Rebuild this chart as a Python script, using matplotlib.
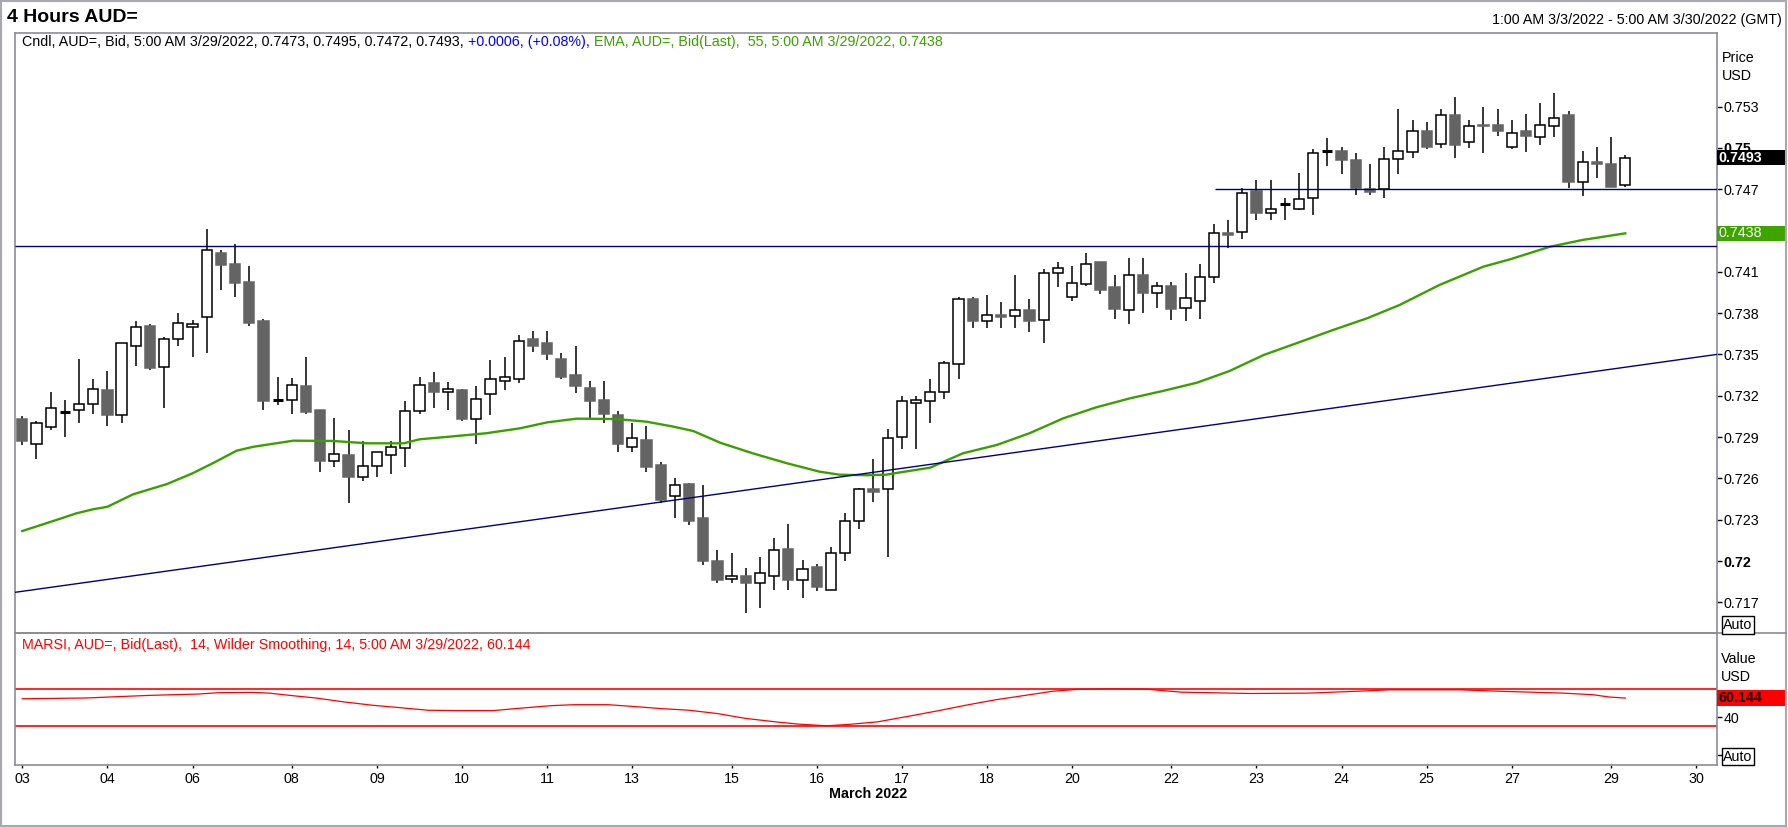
import matplotlib
matplotlib.use('Agg')
import matplotlib.pyplot as plt
import matplotlib.transforms as mtrans
from matplotlib.patches import Rectangle
from matplotlib.lines import Line2D
import numpy as np

plt.rcParams['font.family'] = ['Liberation Sans', 'DejaVu Sans']
FS = 10.3

# ---------------- data (4-hour candles, AUD=, 3 Mar 2022 01:00 -> 29 Mar 2022 05:00) -------------
opens = [0.7303, 0.7285, 0.7297, 0.7308, 0.7310, 0.7314, 0.7324, 0.7306, 0.7356, 0.7371,
         0.7341, 0.7361, 0.7370, 0.7377, 0.7424, 0.7416, 0.7403, 0.7374, 0.7317, 0.7317,
         0.7327, 0.7310, 0.7273, 0.7277, 0.7261, 0.7269, 0.7277, 0.7282, 0.7309, 0.7329,
         0.7323, 0.7324, 0.7303, 0.7321, 0.7331, 0.7332, 0.7361, 0.7358, 0.7347, 0.7335,
         0.7326, 0.7317, 0.7306, 0.7283, 0.7288, 0.7270, 0.7247, 0.7256, 0.7231, 0.7200,
         0.7187, 0.7189, 0.7184, 0.7189, 0.7209, 0.7186, 0.7196, 0.7179, 0.7206, 0.7229,
         0.7252, 0.7252, 0.7290, 0.7315, 0.7316, 0.7323, 0.7343, 0.7390, 0.7374, 0.7379,
         0.7378, 0.7382, 0.7375, 0.7409, 0.7392, 0.7401, 0.7417, 0.7399, 0.7382, 0.7408,
         0.7395, 0.7400, 0.7384, 0.7389, 0.7406, 0.7438, 0.7439, 0.7469, 0.7453, 0.7459,
         0.7456, 0.7464, 0.7498, 0.7498, 0.7491, 0.7470, 0.7470, 0.7492, 0.7497, 0.7512,
         0.7503, 0.7524, 0.7504, 0.7517, 0.7517, 0.7501, 0.7512, 0.7508, 0.7516, 0.7524,
         0.7475, 0.7490, 0.7488, 0.7473]
highs = [0.7305, 0.7302, 0.7323, 0.7317, 0.7347, 0.7332, 0.7338, 0.7358, 0.7374, 0.7372,
         0.7363, 0.7380, 0.7375, 0.7441, 0.7426, 0.7430, 0.7414, 0.7376, 0.7334, 0.7333,
         0.7348, 0.7310, 0.7304, 0.7295, 0.7287, 0.7279, 0.7287, 0.7316, 0.7334, 0.7337,
         0.7330, 0.7325, 0.7327, 0.7346, 0.7348, 0.7364, 0.7367, 0.7367, 0.7351, 0.7356,
         0.7331, 0.7331, 0.7309, 0.7300, 0.7298, 0.7272, 0.7260, 0.7257, 0.7255, 0.7208,
         0.7206, 0.7195, 0.7203, 0.7217, 0.7227, 0.7201, 0.7198, 0.7210, 0.7235, 0.7253,
         0.7274, 0.7296, 0.7320, 0.7320, 0.7332, 0.7345, 0.7392, 0.7392, 0.7393, 0.7388,
         0.7408, 0.7390, 0.7412, 0.7417, 0.7414, 0.7424, 0.7417, 0.7408, 0.7420, 0.7420,
         0.7403, 0.7403, 0.7409, 0.7416, 0.7445, 0.7448, 0.7471, 0.7477, 0.7477, 0.7464,
         0.7482, 0.7499, 0.7507, 0.7501, 0.7496, 0.7488, 0.7501, 0.7528, 0.7520, 0.7519,
         0.7528, 0.7537, 0.7520, 0.7530, 0.7528, 0.7520, 0.7525, 0.7533, 0.7540, 0.7527,
         0.7498, 0.7501, 0.7508, 0.7495]
lows = [0.7284, 0.7274, 0.7295, 0.7290, 0.7300, 0.7307, 0.7298, 0.7300, 0.7342, 0.7339,
        0.7311, 0.7356, 0.7348, 0.7351, 0.7397, 0.7392, 0.7371, 0.7310, 0.7313, 0.7307,
        0.7307, 0.7265, 0.7268, 0.7242, 0.7258, 0.7261, 0.7263, 0.7268, 0.7307, 0.7311,
        0.7310, 0.7302, 0.7285, 0.7306, 0.7324, 0.7329, 0.7352, 0.7346, 0.7332, 0.7322,
        0.7304, 0.7300, 0.7279, 0.7279, 0.7265, 0.7242, 0.7231, 0.7226, 0.7197, 0.7184,
        0.7184, 0.7162, 0.7166, 0.7179, 0.7179, 0.7173, 0.7178, 0.7179, 0.7200, 0.7223,
        0.7243, 0.7203, 0.7281, 0.7281, 0.7300, 0.7318, 0.7332, 0.7369, 0.7369, 0.7369,
        0.7369, 0.7366, 0.7358, 0.7399, 0.7389, 0.7400, 0.7394, 0.7376, 0.7372, 0.7380,
        0.7384, 0.7375, 0.7374, 0.7376, 0.7402, 0.7427, 0.7434, 0.7448, 0.7448, 0.7448,
        0.7455, 0.7451, 0.7487, 0.7481, 0.7466, 0.7466, 0.7464, 0.7481, 0.7493, 0.7499,
        0.7500, 0.7493, 0.7500, 0.7496, 0.7509, 0.7499, 0.7497, 0.7502, 0.7508, 0.7471,
        0.7465, 0.7478, 0.7472, 0.7472]
closes = [0.7287, 0.7300, 0.7311, 0.7308, 0.7314, 0.7325, 0.7306, 0.7358, 0.7370, 0.7340,
          0.7361, 0.7373, 0.7372, 0.7426, 0.7415, 0.7402, 0.7373, 0.7316, 0.7317, 0.7328,
          0.7308, 0.7273, 0.7278, 0.7261, 0.7269, 0.7279, 0.7283, 0.7309, 0.7328, 0.7323,
          0.7325, 0.7303, 0.7318, 0.7332, 0.7334, 0.7360, 0.7356, 0.7350, 0.7334, 0.7327,
          0.7316, 0.7307, 0.7285, 0.7289, 0.7268, 0.7244, 0.7255, 0.7229, 0.7200, 0.7186,
          0.7189, 0.7184, 0.7191, 0.7208, 0.7186, 0.7194, 0.7181, 0.7206, 0.7229, 0.7252,
          0.7250, 0.7289, 0.7316, 0.7317, 0.7323, 0.7344, 0.7390, 0.7374, 0.7379, 0.7377,
          0.7382, 0.7374, 0.7409, 0.7413, 0.7402, 0.7416, 0.7397, 0.7383, 0.7408, 0.7395,
          0.7400, 0.7383, 0.7391, 0.7406, 0.7438, 0.7437, 0.7467, 0.7453, 0.7456, 0.7459,
          0.7463, 0.7496, 0.7498, 0.7491, 0.7471, 0.7468, 0.7492, 0.7498, 0.7512, 0.7501,
          0.7524, 0.7502, 0.7516, 0.7516, 0.7512, 0.7511, 0.7509, 0.7517, 0.7522, 0.7475,
          0.7490, 0.7488, 0.7472, 0.7493]

# EMA(55) read at candle positions
ema_idx = [0, 2.4, 3.8, 5.0, 6.0, 7.8, 10.2, 12.0, 13.5, 15.1, 16.3, 19.1, 21.9, 24.3, 26.9,
           28.0, 30.1, 32.7, 35.1, 37.0, 39.1, 41.9, 44.0, 45.9, 47.3, 49.2, 51.5, 53.9, 56.2,
           57.6, 59.5, 60.9, 61.9, 64.0, 66.3, 68.7, 71.0, 73.4, 75.7, 78.1, 80.4, 82.8, 85.1,
           87.5, 89.8, 92.4, 94.8, 97.1, 99.9, 103.0, 104.9, 107.7, 110.0, 113.0]
ema_val = [0.72218, 0.72298, 0.72346, 0.72376, 0.72394, 0.72484, 0.72559, 0.72637, 0.72714,
           0.72801, 0.72830, 0.72874, 0.72872, 0.72855, 0.72855, 0.72884, 0.72903, 0.72928,
           0.72964, 0.73007, 0.73034, 0.73031, 0.73012, 0.72976, 0.72944, 0.72859, 0.72782,
           0.72710, 0.72649, 0.72627, 0.72623, 0.72627, 0.72644, 0.72678, 0.72782, 0.72843,
           0.72928, 0.73037, 0.73116, 0.73182, 0.73235, 0.73295, 0.73380, 0.73496, 0.73581,
           0.73678, 0.73763, 0.73860, 0.74005, 0.74138, 0.74192, 0.74283, 0.74332, 0.74380]

# Smoothed RSI(14)
rsi_idx = [0, 4.5, 6.5, 9.0, 10.6, 12.4, 13.8, 16.2, 17.4, 19.1, 20.7, 22.7, 24.7, 26.8, 28.6,
           30.8, 33.2, 34.8, 37.3, 38.9, 41.3, 42.9, 45.0, 47.0, 49.0, 51.0, 53.1, 54.7, 56.7,
           58.3, 60.3, 62.5, 64.5, 66.6, 68.6, 70.7, 72.7, 74.3, 76.4, 79.2, 81.7, 86.6, 90.7,
           94.3, 96.4, 101.3, 104.5, 108.6, 110.7, 111.9, 113.0]
rsi_val = [59.4, 60.2, 61.5, 63.0, 63.7, 64.4, 65.8, 66.2, 65.4, 62.6, 60.2, 56.0, 52.5, 49.7,
           47.2, 46.8, 46.8, 49.0, 52.1, 53.1, 53.1, 51.4, 49.0, 47.2, 43.7, 38.5, 34.9, 32.5,
           30.7, 32.2, 34.9, 40.9, 46.5, 52.8, 58.3, 63.0, 67.5, 69.3, 70.0, 69.6, 66.4, 65.0,
           65.4, 67.5, 68.9, 68.9, 67.2, 65.4, 63.7, 61.2, 60.144]
rsi_levels = [30, 70]

# drawn lines (trend / support)
support_levels = [0.7429, 0.7470]
support_start = [-1, 84.1]
trend_p1 = (0, 0.7178)
trend_p2 = (119, 0.73494)

tick_pos = [0, 6, 12, 19, 25, 31, 37, 43, 50, 56, 62, 68, 74, 81, 87, 93, 99, 105, 112, 118]
tick_lab = ['03', '04', '06', '08', '09', '10', '11', '13', '15', '16', '17', '18', '20', '22',
            '23', '24', '25', '27', '29', '30']
price_ticks = [0.717, 0.720, 0.723, 0.726, 0.729, 0.732, 0.735, 0.738, 0.741, 0.744, 0.747,
               0.750, 0.753]
hidden_ticks = [0.744]   # label hidden behind the EMA value box

# ---------------- figure ----------------
W, H = 1788, 827
fig = plt.figure(figsize=(W / 100, H / 100), dpi=100, facecolor='white')

def fx(px):
    return px / W

def fy(py):
    return 1 - py / H

L, R = 15, 1716.5
TOP, MID, BOT = 33, 633.3, 764.5
ax = fig.add_axes([fx(L), fy(MID), fx(R - L), (MID - TOP) / H])
axr = fig.add_axes([fx(L), fy(BOT), fx(R - L), (BOT - MID) / H], sharex=ax)

spine_col = '#8c8c9a'
for a in (ax, axr):
    for s in a.spines.values():
        s.set_color(spine_col)
        s.set_linewidth(1.2)
    a.set_facecolor('white')

x = np.arange(len(closes))
O = np.array(opens); Hh = np.array(highs); Ll = np.array(lows); C = np.array(closes)
up = C > O
dn = C < O
dj = C == O
bw = 0.72

ax.vlines(x, Ll, Hh, color='black', lw=1.1, zorder=2)
ax.bar(x[up], (C - O)[up], bottom=O[up], width=bw, facecolor='white', edgecolor='black',
       lw=1.1, zorder=3)
ax.bar(x[dn], (O - C)[dn], bottom=C[dn], width=bw, facecolor='#646464', edgecolor='#646464',
       lw=1.1, zorder=3)
ax.hlines(O[dj], x[dj] - bw / 2, x[dj] + bw / 2, color='black', lw=2.2, zorder=3)

ema_col = '#3c9f00'
ax.plot(ema_idx, ema_val, color=ema_col, lw=1.7, zorder=4)

navy = '#00007f'
xmin, xmax = -0.515, 119.43
for lev, st in zip(support_levels, support_start):
    ax.hlines(lev, max(st, xmin), xmax, color=navy, lw=1.0, zorder=4)
ax.axline(trend_p1, trend_p2, color=navy, lw=1.0, zorder=4)

ax.set_xlim(xmin, xmax)
ymin, ymax = 0.71475, 0.75835
ax.set_ylim(ymin, ymax)

ax.yaxis.tick_right()
ax.set_yticks(price_ticks)
labs = []
for t in price_ticks:
    if any(abs(t - h) < 1e-9 for h in hidden_ticks):
        labs.append('')
    else:
        labs.append(f'{t:.3f}'.rstrip('0'))
ax.set_yticklabels(labs)
for lab, t in zip(ax.get_yticklabels(), price_ticks):
    if abs(t - 0.72) < 1e-9 or abs(t - 0.75) < 1e-9:
        lab.set_fontweight('bold')
ax.tick_params(axis='y', direction='out', length=3.6, width=1.0, pad=1.2, labelsize=FS,
               colors='black')
ax.tick_params(axis='x', bottom=False, labelbottom=False)

# RSI panel
axr.plot(rsi_idx, rsi_val, color='#ff0000', lw=0.9, zorder=3)
for lv in rsi_levels:
    axr.axhline(lv, color='#ff0000', lw=1.2, zorder=2)
axr.set_ylim(-10.4, 128.9)
axr.yaxis.tick_right()
axr.set_yticks([0, 40])
axr.set_yticklabels(['', '40'])
axr.tick_params(axis='y', direction='out', length=3.6, width=1.0, pad=1.2, labelsize=FS)
axr.set_xticks(tick_pos)
axr.set_xticklabels(tick_lab)
axr.tick_params(axis='x', direction='out', length=2.5, width=1.0, pad=3, labelsize=FS)

# ---------------- texts ----------------
fig.text(fx(7), fy(17), '4 Hours AUD=', fontsize=14, fontweight='bold', va='center', ha='left')
fig.text(fx(1782), fy(20), '1:00 AM 3/3/2022 - 5:00 AM 3/30/2022 (GMT)', fontsize=FS,
         va='center', ha='right')

t1 = fig.text(fx(22), fy(42),
              'Cndl, AUD=, Bid, 5:00 AM 3/29/2022, '
              f'{opens[-1]:.4f}, {highs[-1]:.4f}, {lows[-1]:.4f}, {closes[-1]:.4f},',
              fontsize=FS, va='center', ha='left', color='black')
t2 = ax.annotate(' +0.0006, (+0.08%),', xy=(1, 0), xycoords=t1, va='bottom', ha='left',
                 fontsize=FS, color='#0000ff', annotation_clip=False)
t3 = ax.annotate(f' EMA, AUD=, Bid(Last),  55, 5:00 AM 3/29/2022, {ema_val[-1]:.4f}',
                 xy=(1, 0), xycoords=t2, va='bottom', ha='left', fontsize=FS, color=ema_col,
                 annotation_clip=False)
fig.text(fx(22), fy(645),
         f'MARSI, AUD=, Bid(Last),  14, Wilder Smoothing, 14, 5:00 AM 3/29/2022, {rsi_val[-1]:.3f}',
         fontsize=FS, va='center', ha='left', color='#ff0000')

fig.text(fx(1722), fy(58), 'Price', fontsize=FS, va='center', ha='left')
fig.text(fx(1722), fy(76), 'USD', fontsize=FS, va='center', ha='left')
fig.text(fx(1721), fy(659), 'Value', fontsize=FS, va='center', ha='left')
fig.text(fx(1721), fy(677), 'USD', fontsize=FS, va='center', ha='left')

fig.text(fx(868), fy(794), 'March 2022', fontsize=FS, fontweight='bold', va='center', ha='center')

# value boxes on the scale
def value_box(a, yval, text, fc, tc, bold, hpx):
    tr = mtrans.blended_transform_factory(fig.transFigure, a.transData)
    y0, y1 = a.get_ylim()
    axh = a.get_position().height * H
    hd = hpx / axh * (y1 - y0)
    a.add_patch(Rectangle((fx(1717.3), yval - hd / 2), fx(1785) - fx(1717.3), hd,
                          transform=tr, facecolor=fc, edgecolor='none', clip_on=False,
                          zorder=10))
    a.text(fx(1718.5), yval, text, transform=tr, color=tc, fontsize=FS,
           fontweight='bold' if bold else 'normal', va='center', ha='left', zorder=11,
           clip_on=False)

value_box(ax, closes[-1], f'{closes[-1]:.4f}', 'black', 'white', True, 15.5)
value_box(ax, ema_val[-1], f'{ema_val[-1]:.4f}', '#3fa300', 'white', False, 14.5)
value_box(axr, rsi_val[-1], f'{rsi_val[-1]:.3f}', '#ff0000', 'black', True, 16)

for yc in (625, 756.6):
    fig.text(fx(1738), fy(yc), 'Auto', fontsize=FS, va='center', ha='center',
             bbox=dict(boxstyle='square,pad=0.12', facecolor='white', edgecolor='black', lw=1.0))

# separator line and outer frame
fig.add_artist(Line2D([fx(L), fx(1785.5)], [fy(MID), fy(MID)], color=spine_col, lw=1.2))
fig.add_artist(Rectangle((fx(0.8), fy(825.5)), fx(1785.5), (825.5 - 1.2) / H, fill=False,
                         edgecolor='#a8a8b0', lw=1.5, transform=fig.transFigure))

fig.savefig('out.png', dpi=100, facecolor='white')
